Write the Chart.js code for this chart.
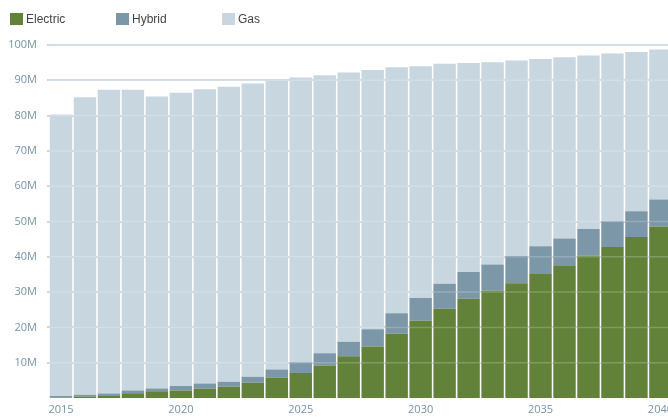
<!DOCTYPE html>
<html>
<head>
<meta charset="utf-8">
<script src="https://cdn.jsdelivr.net/npm/chart.js@4"></script>
<style>
  html, body { margin: 0; padding: 0; overflow: hidden; background: #fff; }
  #wrap { position: relative; width: 678px; height: 417px; }
  #vehicles { display: block; }
  #legend { position: absolute; left: 10px; top: 12px; display: flex; font: 12px "Liberation Sans", Arial, sans-serif; color: #444; }
  #legend .item { width: 106px; display: flex; align-items: center; }
  #legend .sw { width: 13px; height: 12px; margin-right: 3px; }
</style>
</head>
<body>
<div id="wrap">
  <canvas id="vehicles" width="678" height="417"></canvas>
  <div id="legend"></div>
</div>
<script>
const years = ['2015', '2016', '2017', '2018', '2019', '2020', '2021', '2022', '2023', '2024', '2025', '2026', '2027',
  '2028', '2029', '2030', '2031', '2032', '2033', '2034', '2035', '2036', '2037', '2038', '2039', '2040'];
const electric = [0.1, 0.4, 0.6, 1.35, 1.9, 2.1, 2.6, 3.2, 4.3, 5.8, 7.1, 9.2, 11.8,
  14.6, 18.2, 21.9, 25.3, 28.1, 30.4, 32.5, 35.1, 37.4, 40.3, 42.8, 45.6, 48.6];
const hybrid = [0.5, 0.5, 0.7, 0.75, 0.8, 1.3, 1.5, 1.4, 1.7, 2.3, 3.0, 3.5, 4.1,
  4.9, 5.8, 6.4, 7.1, 7.6, 7.4, 7.7, 7.9, 7.8, 7.6, 7.3, 7.3, 7.6];
const gas = [79.7, 84.3, 86.0, 85.2, 82.7, 83.1, 83.4, 83.6, 83.1, 82.0, 80.7, 78.7, 76.3,
  73.4, 69.7, 65.7, 62.3, 59.2, 57.3, 55.4, 53.0, 51.3, 49.1, 47.5, 45.1, 42.5];
const yTicks = [10, 20, 30, 40, 50, 60, 70, 80, 90, 100];

const colors = { Electric: '#62823a', Hybrid: '#7b97a8', Gas: '#c8d6df' };

// faint light lines drawn over the bars at each gridline
const overGrid = {
  id: 'overGrid',
  afterDatasetsDraw(chart) {
    const { ctx, chartArea, scales } = chart;
    ctx.save();
    ctx.strokeStyle = 'rgba(255,255,255,0.2)';
    ctx.lineWidth = 1.5;
    yTicks.forEach(v => {
      const y = scales.y.getPixelForValue(v);
      ctx.beginPath();
      ctx.moveTo(chartArea.left, y);
      ctx.lineTo(chartArea.right, y);
      ctx.stroke();
    });
    ctx.restore();
  }
};

const tickFont = { family: '"Open Sans", sans-serif', size: 11 };

const chart = new Chart(document.getElementById('vehicles').getContext('2d'), {
  type: 'bar',
  data: {
    labels: years,
    datasets: [
      { label: 'Electric', data: electric, backgroundColor: colors.Electric },
      { label: 'Hybrid', data: hybrid, backgroundColor: colors.Hybrid },
      { label: 'Gas', data: gas, backgroundColor: colors.Gas }
    ]
  },
  options: {
    responsive: false,
    animation: false,
    datasets: { bar: { barPercentage: 0.935, categoryPercentage: 1, borderWidth: 0 } },
    layout: { padding: { top: 45, right: 0, left: 0, bottom: 0 } },
    plugins: { legend: { display: false }, tooltip: { enabled: false } },
    scales: {
      x: {
        stacked: true,
        grid: { display: false, drawTicks: false },
        border: { display: false },
        ticks: {
          color: '#7693a6', font: tickFont, padding: 5, maxRotation: 0, autoSkip: false,
          callback: (v, i) => (i % 5 === 0 ? years[i] : '')
        },
        afterFit: s => { s.height = 19; }
      },
      y: {
        stacked: true,
        min: 0,
        max: 100,
        afterBuildTicks: s => { s.ticks = yTicks.map(v => ({ value: v })); },
        grid: { color: '#cad7e0', lineWidth: 2, tickLength: 2 },
        border: { display: false },
        ticks: { color: '#7693a6', font: tickFont, padding: 10, callback: v => v + 'M' },
        afterFit: s => { s.width = 49; }
      }
    }
  },
  plugins: [overGrid]
});

const legend = document.getElementById('legend');
chart.data.datasets.forEach(ds => {
  const item = document.createElement('div');
  item.className = 'item';
  const sw = document.createElement('span');
  sw.className = 'sw';
  sw.style.background = ds.backgroundColor;
  const txt = document.createElement('span');
  txt.textContent = ds.label;
  item.appendChild(sw);
  item.appendChild(txt);
  legend.appendChild(item);
});
</script>
</body>
</html>
